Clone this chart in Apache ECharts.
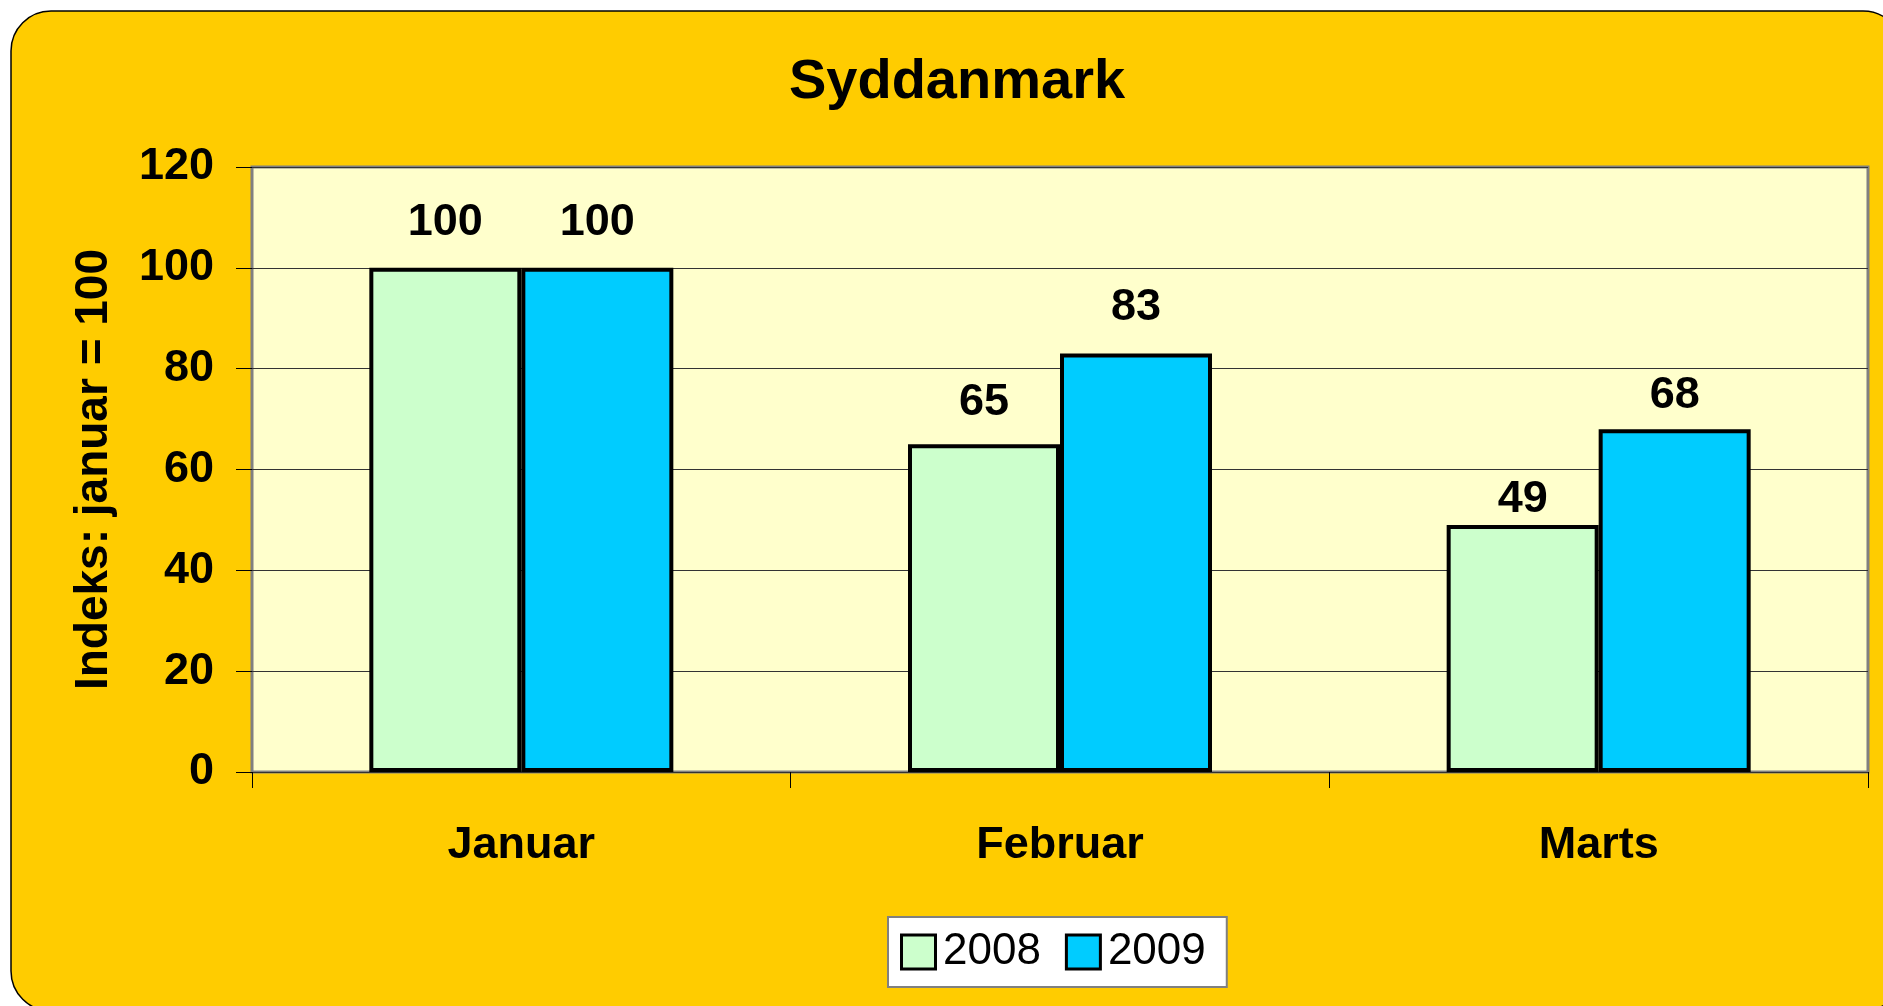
<!DOCTYPE html>
<html>
<head>
    <meta charset="utf-8">
    <title>Syddanmark</title>
    <script src="https://cdn.jsdelivr.net/npm/echarts@6/dist/echarts.min.js"></script>
    <style>
        html, body { margin: 0; padding: 0; background: #ffffff; }
        #chart { width: 1883px; height: 1006px; }
    </style>
</head>
<body>
<div id="chart"></div>
<script>
    // data
    var months = ['Januar', 'Februar', 'Marts'];
    var values2008 = [100, 65, 49];
    var values2009 = [100, 83, 68];
    var yTicks = [0, 20, 40, 60, 80, 100, 120];
    // gap (px) between label and bar top, as in the picture
    var labelGap2008 = [35, 31, 15];
    var labelGap2009 = [35, 35, 23];

    var font = '"Liberation Sans", Arial, sans-serif';
    var color2008 = '#CCFFCC';
    var color2009 = '#00CCFF';
    var chart = echarts.init(document.getElementById('chart'));

    function barData(values, gaps) {
        return values.map(function (v, i) {
            return { value: v, label: { distance: gaps[i] - 12 } };
        });
    }

    var barLabel = {
        show: true,
        position: 'top',
        color: '#000',
        fontFamily: font,
        fontWeight: 'bold',
        fontSize: 45
    };

    // legend squares drawn as rich-text boxes so they can get a thick border
    function legendBox(c) {
        return { width: 31, height: 31, backgroundColor: c, borderColor: '#000', borderWidth: 3 };
    }

    var option = {
        backgroundColor: '#ffffff',
        animation: false,
        graphic: [{
            type: 'rect',
            z: -10,
            shape: { x: 11, y: 11, width: 1892, height: 1000, r: 40 },
            style: { fill: '#FFCC00', stroke: '#000', lineWidth: 1.5 }
        }],
        title: {
            text: 'Syddanmark',
            left: 957,
            top: 55,
            padding: 0,
            textAlign: 'center',
            textStyle: { fontFamily: font, fontWeight: 'bold', fontSize: 56, color: '#000' }
        },
        legend: {
            data: ['2008', '2009'],
            left: 888,
            top: 917,
            padding: [13, 21, 13, 9],
            itemGap: 21,
            itemWidth: 0,
            itemHeight: 0,
            icon: 'rect',
            backgroundColor: '#ffffff',
            borderColor: '#808080',
            borderWidth: 2,
            formatter: function (name) {
                return '{b' + name + '|}{t|' + name + '}';
            },
            textStyle: {
                fontFamily: font,
                fontSize: 44,
                color: '#000',
                rich: {
                    b2008: legendBox(color2008),
                    b2009: legendBox(color2009),
                    t: { fontFamily: font, fontSize: 44, color: '#000', padding: [0, 0, 0, 9] }
                }
            }
        },
        grid: {
            left: 252,
            top: 167,
            right: 15,
            bottom: 234,
            show: true,
            backgroundColor: '#FFFFCC',
            borderColor: '#808080',
            borderWidth: 3
        },
        xAxis: {
            type: 'category',
            data: months,
            axisLine: { show: false },
            axisTick: { show: true, length: 16, lineStyle: { color: '#000', width: 1 } },
            axisLabel: { margin: 51, color: '#000', fontFamily: font, fontWeight: 'bold', fontSize: 45 }
        },
        yAxis: {
            type: 'value',
            min: yTicks[0],
            max: yTicks[yTicks.length - 1],
            interval: 20,
            name: 'Indeks: januar = 100',
            nameLocation: 'middle',
            nameRotate: 90,
            nameGap: 135,
            nameTextStyle: { fontFamily: font, fontWeight: 'bold', fontSize: 46, color: '#000' },
            axisLine: { show: false },
            axisTick: { show: true, length: 16, lineStyle: { color: '#000', width: 1 } },
            axisLabel: { margin: 38, color: '#000', fontFamily: font, fontWeight: 'bold', fontSize: 45 },
            splitLine: { lineStyle: { color: '#333333', width: 1 } }
        },
        series: [
            {
                name: '2008',
                type: 'bar',
                data: barData(values2008, labelGap2008),
                barWidth: 152,
                barGap: '0%',
                itemStyle: { color: color2008, borderColor: '#000', borderWidth: 4 },
                label: barLabel
            },
            {
                name: '2009',
                type: 'bar',
                data: barData(values2009, labelGap2009),
                barWidth: 152,
                barGap: '0%',
                itemStyle: { color: color2009, borderColor: '#000', borderWidth: 4 },
                label: barLabel
            }
        ]
    };

    chart.setOption(option);
    window.onresize = function () {
        chart.resize();
    };
</script>
</body>
</html>
